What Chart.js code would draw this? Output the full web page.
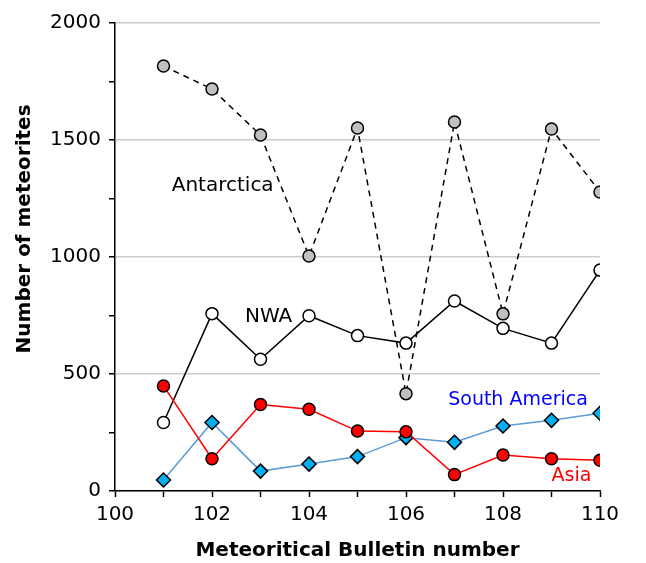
<!DOCTYPE html>
<html>
<head>
<meta charset="utf-8">
<script src="https://cdn.jsdelivr.net/npm/chart.js@4"></script>
<style>
  html, body { margin: 0; padding: 0; background: #fff; }
  #wrap { width: 646px; height: 563px; }
</style>
</head>
<body>
<div id="wrap"><canvas id="myChart" width="646" height="563"></canvas></div>
<script>
// bulletin numbers on the x axis
let bulletin = [101, 102, 103, 104, 105, 106, 107, 108, 109, 110];

// number of meteorites per region
let antarctica = [1816, 1718, 1521, 1004, 1551, 416, 1577, 757, 1547, 1278];
let nwa = [293, 758, 563, 749, 664, 632, 812, 695, 632, 944];
let asia = [449, 138, 370, 349, 256, 253, 70, 154, 138, 131];
let southAmerica = [47, 293, 85, 115, 147, 228, 208, 278, 302, 332];

let seriesNames = ['Asia', 'South America', 'NWA', 'Antarctica'];

function pts(values) {
    return bulletin.map((b, i) => ({ x: b, y: values[i] }));
}

const font = "'DejaVu Sans', Verdana, sans-serif";

// text labels next to each line (in data units) + the y axis title,
// which sits a bit above the middle of the axis in the original
const labelPlugin = {
    id: 'seriesLabels',
    afterDatasetsDraw(chart) {
        const ctx = chart.ctx;
        const xs = chart.scales.x, ys = chart.scales.y;
        const labels = [
            { text: 'Antarctica', x: 101.17, y: 1303, color: '#000', size: 20 },
            { text: 'NWA', x: 102.68, y: 745, color: '#000', size: 20 },
            { text: 'South America', x: 106.87, y: 388, color: '#0000ff', size: 19 },
            { text: 'Asia', x: 109.0, y: 62, color: '#ff0000', size: 19 }
        ];
        ctx.save();
        ctx.textAlign = 'left';
        ctx.textBaseline = 'middle';
        labels.forEach(l => {
            ctx.font = l.size + 'px ' + font;
            ctx.fillStyle = l.color;
            ctx.fillText(l.text, xs.getPixelForValue(l.x), ys.getPixelForValue(l.y));
        });
        ctx.restore();

        ctx.save();
        ctx.translate(25, ys.getPixelForValue(1120));
        ctx.rotate(-Math.PI / 2);
        ctx.font = 'bold 20px ' + font;
        ctx.fillStyle = '#000';
        ctx.textAlign = 'center';
        ctx.textBaseline = 'middle';
        ctx.fillText('Number of meteorites', 0, 0);
        ctx.restore();
    }
};

let ctx = document.getElementById('myChart').getContext('2d');
new Chart(ctx, {
    type: 'line',
    data: {
        datasets: [{
            label: seriesNames[0],
            data: pts(asia),
            borderColor: '#ff0000',
            borderWidth: 1.5,
            pointBackgroundColor: '#ff0000',
            pointBorderColor: '#000',
            pointBorderWidth: 1.5,
            pointRadius: 6
        }, {
            label: seriesNames[1],
            data: pts(southAmerica),
            borderColor: '#5b9bd5',
            borderWidth: 1.5,
            pointStyle: 'rectRot',
            pointBackgroundColor: '#00b0f0',
            pointBorderColor: '#000',
            pointBorderWidth: 1.5,
            pointRadius: 7
        }, {
            label: seriesNames[2],
            data: pts(nwa),
            borderColor: '#000',
            borderWidth: 1.5,
            pointBackgroundColor: '#fff',
            pointBorderColor: '#000',
            pointBorderWidth: 1.5,
            pointRadius: 6
        }, {
            label: seriesNames[3],
            data: pts(antarctica),
            borderColor: '#000',
            borderWidth: 1.5,
            borderDash: [6, 5],
            pointBackgroundColor: '#c0c0c0',
            pointBorderColor: '#000',
            pointBorderWidth: 1.5,
            pointRadius: 6
        }]
    },
    options: {
        responsive: false,
        animation: false,
        layout: { padding: { top: 23, right: 46, left: 0, bottom: 0 } },
        plugins: {
            legend: { display: false },
            tooltip: { enabled: false }
        },
        scales: {
            x: {
                type: 'linear',
                min: 100,
                max: 110,
                afterFit: s => { s.height = 72; },
                border: { display: true, color: '#000', width: 1.5 },
                grid: { drawOnChartArea: false, drawTicks: true, tickLength: 6, tickColor: '#000', tickWidth: 1.5 },
                ticks: {
                    stepSize: 1,
                    autoSkip: false,
                    maxRotation: 0,
                    color: '#000',
                    padding: 6,
                    font: { family: font, size: 20 },
                    callback: v => (v % 2 === 0 ? v : '')
                },
                title: {
                    display: true,
                    text: 'Meteoritical Bulletin number',
                    color: '#000',
                    font: { family: font, size: 20, weight: 'bold' },
                    padding: { top: 11, bottom: 0 }
                }
            },
            y: {
                min: 0,
                max: 2000,
                afterFit: s => { s.width = 115; },
                border: { display: true, color: '#000', width: 1.5 },
                grid: {
                    drawTicks: true,
                    tickLength: 6,
                    tickColor: '#000',
                    tickWidth: 1.5,
                    lineWidth: 1.5,
                    color: c => (c.tick && c.tick.value % 500 === 0 ? '#cccccc' : 'rgba(0,0,0,0)')
                },
                ticks: {
                    stepSize: 250,
                    autoSkip: false,
                    color: '#000',
                    padding: 8,
                    font: { family: font, size: 20 },
                    callback: v => (v % 500 === 0 ? v : '')
                },
                title: { display: false }
            }
        }
    },
    plugins: [labelPlugin]
});
</script>
</body>
</html>
